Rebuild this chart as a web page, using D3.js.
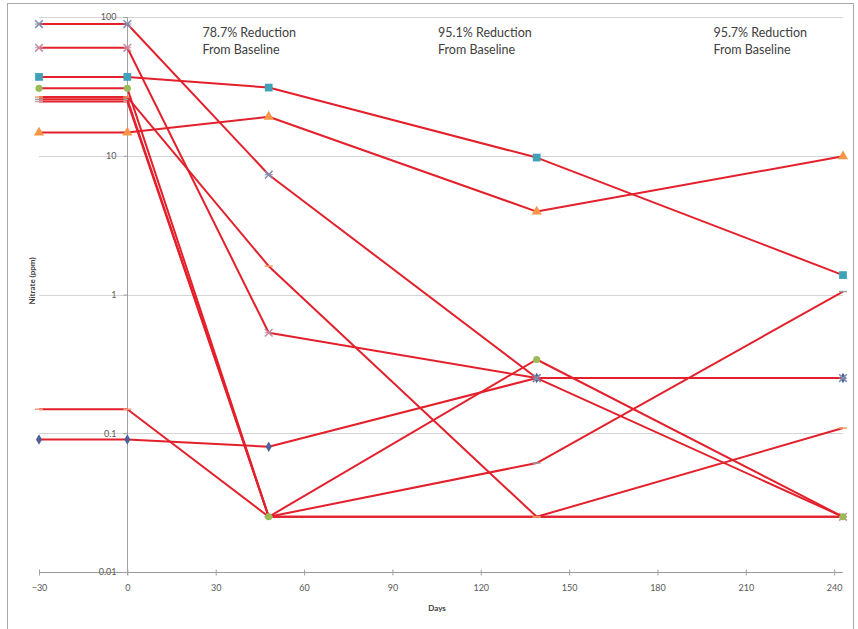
<!DOCTYPE html>
<html>
<head>
<meta charset="utf-8">
<script src="https://cdn.jsdelivr.net/npm/d3@7"></script>
<style>
  body { margin: 0; background: #fff; }
  text { font-family: Lato, "Open Sans", sans-serif; }
</style>
</head>
<body>
<div id="chart"></div>
<script>
// sample days (x) shared by every series
var days = [-30, 0, 48, 139, 243]

// nitrate values (ppm) per well
var wellA = [89, 89, 7.3, 0.25, 0.25]      // x marker
var wellB = [60, 60, 0.53, 0.25, 0.025]    // x marker
var wellC = [37, 37, 31, 9.7, 1.38]        // square
var wellD = [30.6, 30.6, 0.025, 0.34, 0.025] // circle
var wellE = [26.5, 26.5, 1.6, 0.025, 0.109]
var wellF = [25.5, 25.5, 0.025, 0.061, 1.05]
var wellG = [24.6, 24.6, 0.025, 0.025, 0.025]
var wellH = [14.7, 14.7, 19.1, 3.96, 9.9]  // triangle
var wellI = [0.149, 0.149, 0.025, 0.025, 0.025]
var wellJ = [0.09, 0.09, 0.08, 0.25, 0.25] // diamond

var xTicks = [-30, 0, 30, 60, 90, 120, 150, 180, 210, 240]
var yTicks = [0.01, 0.1, 1, 10, 100]

var notes = [
  {x: 25.5, lines: ['78.7% Reduction', 'From Baseline']},
  {x: 105.5, lines: ['95.1% Reduction', 'From Baseline']},
  {x: 199, lines: ['95.7% Reduction', 'From Baseline']}
]

var series = [
  {vals: wellJ, marker: 'diamond', color: '#4f5f9a'},
  {vals: wellB, marker: 'x', color: '#c98aa0'},
  {vals: wellI, marker: 'dash', color: '#f2a07a'},
  {vals: wellG, marker: 'dash', color: '#c9a0a0'},
  {vals: wellF, marker: 'dash', color: '#a0a0a0'},
  {vals: wellE, marker: 'dash', color: '#f0a060'},
  {vals: wellD, marker: 'circle', color: '#9bbb59'},
  {vals: wellA, marker: 'x', color: '#7f8fb0'},
  {vals: wellH, marker: 'triangle', color: '#f79646'},
  {vals: wellC, marker: 'square', color: '#3fa2b8'}
]

var width = 858, height = 629

var svg = d3.select('#chart').append('svg')
    .attr('width', width)
    .attr('height', height)

// chart frame
svg.append('rect')
    .attr('x', 7.5).attr('y', 3.5)
    .attr('width', 846).attr('height', 640)
    .attr('fill', 'none')
    .attr('stroke', '#a8a8a8')

var xScale = d3.scaleLinear().domain([-30, 243]).range([39, 843])
var yScale = d3.scaleLog().domain([0.01, 100]).range([572, 17])

// gridlines
svg.append('g').selectAll('line')
    .data(yTicks)
    .enter().append('line')
    .attr('x1', xScale(-30)).attr('x2', xScale(243))
    .attr('y1', d => Math.round(yScale(d)) + 0.5)
    .attr('y2', d => Math.round(yScale(d)) + 0.5)
    .attr('stroke', d => d == 0.01 ? '#9a9a9a' : '#d4d4d4')

// y axis sits at day 0
var yAxis = svg.append('g')
    .attr('transform', 'translate(' + (Math.round(xScale(0)) + 0.5) + ',0)')
    .call(d3.axisLeft(yScale).tickValues(yTicks).tickFormat(d => d).tickSize(4).tickPadding(7))
yAxis.select('.domain').remove()
yAxis.append('line')
    .attr('y1', yScale(100)).attr('y2', yScale(0.01) + 3)
    .attr('stroke', '#a0a0a0')
yAxis.selectAll('.tick line').attr('stroke', '#a0a0a0')
yAxis.selectAll('.tick text')
    .attr('fill', '#595959')
    .style('font-size', '9px')
    .style('font-family', 'Lato, sans-serif')

// x axis sits on the 0.01 line
var xAxis = svg.append('g')
    .attr('transform', 'translate(0,' + (Math.round(yScale(0.01)) + 0.5) + ')')
    .call(d3.axisBottom(xScale).tickValues(xTicks).tickSize(3).tickPadding(9))
xAxis.select('.domain').remove()
xAxis.selectAll('.tick line').attr('y1', -3).attr('stroke', '#a0a0a0')
xAxis.selectAll('.tick text')
    .attr('fill', '#595959')
    .style('font-size', '9px')
    .style('font-family', 'Lato, sans-serif')

// lines and markers
var line = d3.line()
    .x((d, i) => xScale(days[i]))
    .y(d => yScale(d))

series.forEach(s => {
  svg.append('path')
      .datum(s.vals)
      .attr('d', line)
      .attr('fill', 'none')
      .attr('stroke', '#e3202b')
      .attr('stroke-width', 2)
      .attr('stroke-linejoin', 'round')

  var pts = svg.append('g').selectAll('g')
      .data(s.vals)
      .enter().append('g')
      .attr('transform', (d, i) => 'translate(' + xScale(days[i]) + ',' + yScale(d) + ')')

  if (s.marker == 'dash') {
    pts.append('line')
        .attr('x1', -4).attr('x2', 4)
        .attr('stroke', s.color).attr('stroke-width', 1.5)
  } else if (s.marker == 'x') {
    pts.append('path')
        .attr('d', d3.symbol().type(d3.symbolX).size(40))
        .attr('fill', 'none')
        .attr('stroke', s.color).attr('stroke-width', 1.5)
    pts.append('line')
        .attr('x1', -4).attr('x2', 4)
        .attr('stroke', s.color).attr('stroke-width', 1)
  } else {
    var types = {circle: d3.symbolCircle, square: d3.symbolSquare, triangle: d3.symbolTriangle, diamond: d3.symbolDiamond}
    var size = {circle: 40, square: 60, triangle: 45, diamond: 32}
    pts.append('path')
        .attr('d', d3.symbol().type(types[s.marker]).size(size[s.marker]))
        .attr('fill', s.color)
  }
})

// reduction notes
notes.forEach(n => {
  var t = svg.append('text')
      .attr('x', xScale(n.x))
      .attr('y', 37)
      .attr('fill', '#404040')
      .style('font-size', '12.5px')
  n.lines.forEach((l, i) => {
    t.append('tspan').attr('x', xScale(n.x)).attr('dy', i == 0 ? 0 : 17).text(l)
  })
})

// axis titles
svg.append('text')
    .attr('x', 437).attr('y', 611)
    .attr('text-anchor', 'middle')
    .attr('fill', '#404040')
    .style('font-size', '8px')
    .style('font-weight', 'bold')
    .text('Days')

svg.append('text')
    .attr('transform', 'translate(35,281) rotate(-90)')
    .attr('text-anchor', 'middle')
    .attr('fill', '#404040')
    .style('font-size', '8px')
    .style('font-weight', 'bold')
    .text('Nitrate (ppm)')
</script>
</body>
</html>
